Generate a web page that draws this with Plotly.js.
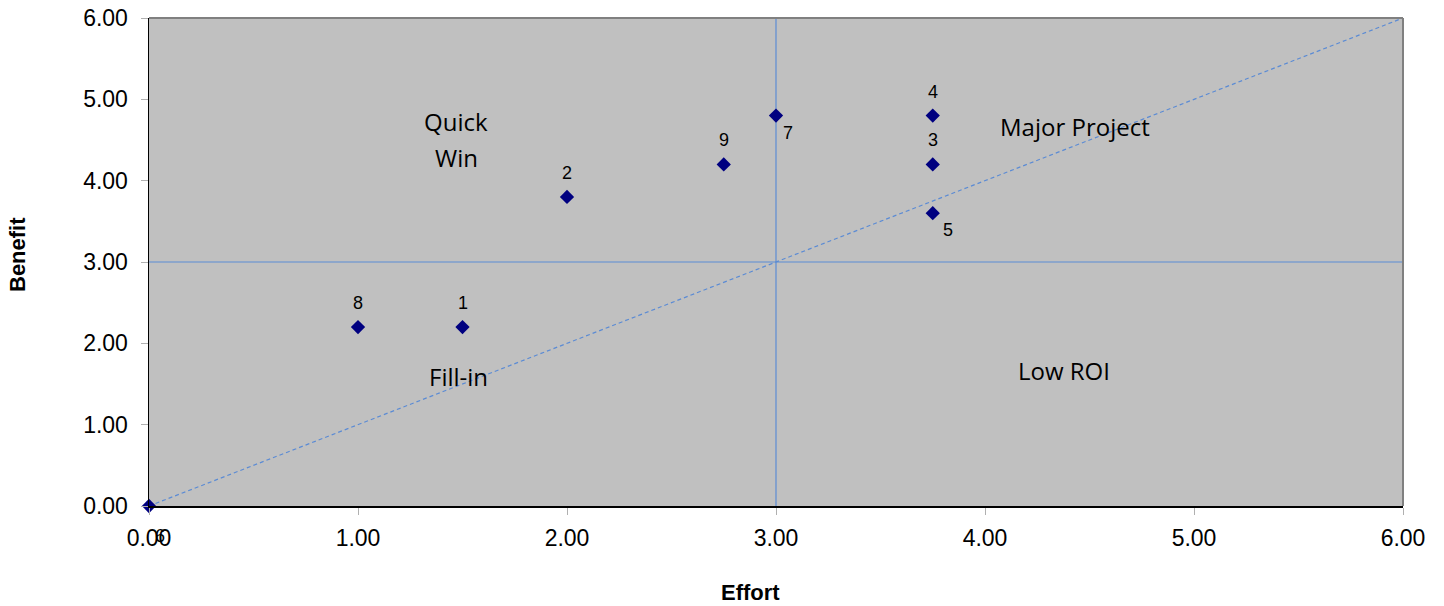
<!DOCTYPE html>
<html>
<head>
<meta charset="utf-8">
<script src="https://cdn.plot.ly/plotly-3.0.1.min.js"></script>
<style>html,body{margin:0;padding:0;background:#fff;}#chart{width:1444px;height:606px;}</style>
</head>
<body>
<div id="chart"></div>
<script>
// Data
const pointLabels = ["1", "2", "3", "4", "5", "6", "7", "8", "9"];
const effort  = [1.5, 2.0, 3.75, 3.75, 3.75, 0.0, 3.0, 1.0, 2.75];
const benefit = [2.2, 3.8, 4.2, 4.8, 3.6, 0.0, 4.8, 2.2, 4.2];

const quadrantNames = ["Quick", "Win", "Major Project", "Fill-in", "Low ROI"];
const quadrantX = [1.47, 1.47, 4.43, 1.48, 4.38];
const quadrantY = [4.73, 4.28, 4.67, 1.59, 1.67];

const diagX = [0, 6];
const diagY = [0, 6];
const midValue = 3;
const axisMin = 0, axisMax = 6;
const tickVals = [0, 1, 2, 3, 4, 5, 6];
const tickText = ["0.00", "1.00", "2.00", "3.00", "4.00", "5.00", "6.00"];

const lineBlue = "#5b8bd4";
const W = 1444, H = 606, ML = 149, MR = 41, MT = 18, MB = 100;
const PW = W - ML - MR, PH = H - MT - MB;

// label offsets (style)
const labelShift = {
  "7": [12, -17], "5": [15, -17], "6": [11, -30]
};

const traces = [
  { x: diagX, y: diagY, mode: "lines", line: {color: lineBlue, width: 1.2, dash: "4px,3px"}, hoverinfo: "skip", showlegend: false },
  { x: [axisMin, axisMax], y: [midValue, midValue], mode: "lines", line: {color: lineBlue, width: 1.2}, hoverinfo: "skip", showlegend: false },
  { x: [midValue, midValue], y: [axisMin, axisMax], mode: "lines", line: {color: lineBlue, width: 1.2}, hoverinfo: "skip", showlegend: false },
  { x: effort, y: benefit, mode: "markers", marker: {symbol: "diamond", size: 11, color: "#000080"}, cliponaxis: false, showlegend: false, text: pointLabels }
];

const annotations = [];
pointLabels.forEach((lab, i) => {
  const s = labelShift[lab] || [0, 24];
  annotations.push({ x: effort[i], y: benefit[i], xref: "x", yref: "y", text: lab, showarrow: false,
    xshift: s[0], yshift: s[1], font: {family: "Liberation Sans, Arial", size: 18, color: "#000"} });
});
quadrantNames.forEach((q, i) => {
  annotations.push({ x: quadrantX[i], y: quadrantY[i], xref: "x", yref: "y", text: q, showarrow: false,
    font: {family: "Open Sans, Noto Sans", size: 24, color: "#000"} });
});
annotations.push({ x: (750 - ML) / PW, xref: "paper", y: -(592 - 506) / PH, yref: "paper",
  xanchor: "center", yanchor: "middle", text: "<b>Effort</b>", showarrow: false,
  font: {family: "Liberation Sans, Arial", size: 22, color: "#000"} });
annotations.push({ x: -(ML - 18) / PW, xref: "paper", y: (506 - 255) / PH, yref: "paper",
  xanchor: "center", yanchor: "middle", textangle: -90, text: "<b>Benefit</b>", showarrow: false,
  font: {family: "Liberation Sans, Arial", size: 22, color: "#000"} });

const layout = {
  width: W, height: H,
  margin: {l: ML, r: MR, t: MT, b: MB, pad: 0},
  paper_bgcolor: "#ffffff",
  plot_bgcolor: "#c0c0c0",
  font: {family: "Liberation Sans, Arial", size: 23, color: "#000"},
  xaxis: {
    range: [axisMin, axisMax], tickvals: tickVals, ticktext: tickText,
    showgrid: false, zeroline: false,
    showline: true, linecolor: "#000", linewidth: 1.5,
    ticks: "outside", ticklen: 7, tickcolor: "#b0b0b0", tickwidth: 1,
    ticklabelstandoff: 4,
    tickfont: {family: "Liberation Sans, Arial", size: 23, color: "#000"},
    fixedrange: true
  },
  yaxis: {
    range: [axisMin, axisMax], tickvals: tickVals, ticktext: tickText,
    showgrid: false, zeroline: false,
    showline: true, linecolor: "#000", linewidth: 1.5,
    ticks: "outside", ticklen: 7, tickcolor: "#b0b0b0", tickwidth: 1,
    ticklabelstandoff: 8,
    tickfont: {family: "Liberation Sans, Arial", size: 23, color: "#000"},
    fixedrange: true
  },
  shapes: [
    {type: "line", xref: "paper", yref: "paper", x0: 0, x1: 1, y0: 1, y1: 1, line: {color: "#808080", width: 2}},
    {type: "line", xref: "paper", yref: "paper", x0: 1, x1: 1, y0: 0, y1: 1, line: {color: "#808080", width: 2}}
  ],
  annotations: annotations,
  showlegend: false
};

Plotly.newPlot("chart", traces, layout, {displayModeBar: false, staticPlot: true});
</script>
</body>
</html>
